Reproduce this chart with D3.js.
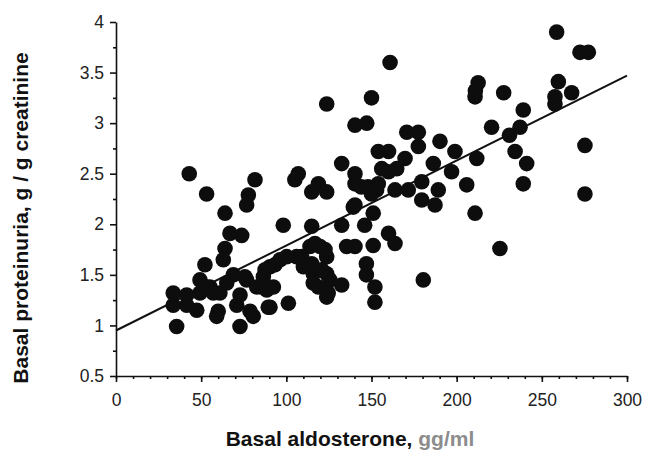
<!DOCTYPE html>
<html>
<head>
<meta charset="utf-8">
<script src="https://cdn.jsdelivr.net/npm/d3@7"></script>
<style>
  body { margin: 0; background: #fff; }
  svg { display: block; font-family: "Liberation Sans", Arial, sans-serif; }
</style>
</head>
<body>
<div id="chart"></div>
<script>
// values
const aldosterone = [
  35.6, 72.8, 33.6, 41.5, 49.3, 55.2, 33.6, 41.5, 47.4, 49.3, 52.2, 53.2, 57.1, 61, 65, 68.9, 75.7,
  60, 59.1, 70.9, 72.8, 76.7, 78.7, 80.6, 82.6, 88.5, 92.4, 86.5, 90.4, 96.3, 100.2, 106, 110,
  113.9, 119.8, 115.8, 115.8, 123.7, 123.7, 125.6, 123.7, 120.8, 118.8, 124.6, 109, 116.8, 122.7,
  114.9, 89.4, 85.5, 90.4, 101.2, 132.5, 98.2, 114.9, 132.5, 135.4, 140.3, 147, 147, 152, 152,
  139.3, 146, 151, 151, 64, 53.2, 43, 77.7, 76.7, 81.6, 66.9, 73.8, 64, 63, 105, 107, 118.8,
  114.9, 123.7, 132.5, 123.7, 150, 140.3, 147.2, 160.9, 140.3, 140.3, 144, 148, 150, 154, 153,
  140.3, 154, 160, 169.7, 156, 160, 164.8, 163.8, 171.6, 179.5, 189.2, 179.5, 187.3, 186.3, 197,
  205.9, 199, 190.2, 170.7, 177.5, 177.5, 160, 163.8, 180.4, 210.8, 225.4, 211.8, 210.8, 212.6,
  211, 220.5, 227.6, 231, 237.2, 239.1, 234.3, 241.1, 239.1, 258.7, 272.4, 277.3, 259.7, 257.7,
  257.7, 267.5, 275.3, 275.3, 93.3, 87.5
];
const proteinuria = [
  0.99, 0.99, 1.32, 1.30, 1.32, 1.38, 1.20, 1.20, 1.15, 1.45, 1.60, 1.38, 1.32, 1.32, 1.42, 1.50, 1.48,
  1.14, 1.09, 1.20, 1.30, 1.45, 1.14, 1.09, 1.38, 1.35, 1.38, 1.48, 1.58, 1.65, 1.68, 1.68, 1.58,
  1.78, 1.78, 1.51, 1.42, 1.68, 1.51, 1.45, 1.28, 1.55, 1.38, 1.32, 1.68, 1.81, 1.75,
  1.61, 1.18, 1.38, 1.18, 1.22, 1.40, 1.99, 1.98, 1.99, 1.78, 1.78, 1.61, 1.50, 1.38, 1.23,
  2.17, 1.99, 2.11, 1.79, 2.11, 2.30, 2.50, 2.29, 2.19, 2.44, 1.91, 1.89, 1.76, 1.65, 2.44, 2.50, 2.40,
  2.32, 2.32, 2.60, 3.19, 3.25, 2.98, 3.00, 3.60, 2.50, 2.40, 2.37, 2.37, 2.30, 2.40, 2.34,
  2.19, 2.72, 2.72, 2.65, 2.55, 2.52, 2.55, 2.34, 2.34, 2.42, 2.34, 2.24, 2.19, 2.60, 2.52,
  2.39, 2.72, 2.82, 2.91, 2.91, 2.77, 1.91, 1.81, 1.45, 2.11, 1.76, 2.65, 3.26, 3.40,
  3.32, 2.96, 3.30, 2.88, 2.96, 3.13, 2.72, 2.60, 2.40, 3.90, 3.70, 3.70, 3.41, 3.26,
  3.19, 3.30, 2.78, 2.30, 1.60, 1.55
];
const fitX = [0, 300];
const fitY = [0.95, 3.47];
const xTicks = [0, 50, 100, 150, 200, 250, 300];
const yTicks = [0.5, 1, 1.5, 2, 2.5, 3, 3.5, 4];

const width = 647, height = 460;
const margin = { left: 116, right: 20, top: 22, bottom: 84 };

const svg = d3.select("#chart").append("svg")
  .attr("width", width)
  .attr("height", height);

const x = d3.scaleLinear().domain([0, 300]).range([margin.left, width - margin.right]);
const y = d3.scaleLinear().domain([0.5, 4]).range([height - margin.bottom, margin.top]);

// minor ticks first, then major axis on top
svg.append("g")
  .attr("transform", `translate(0,${y(0.5)})`)
  .call(d3.axisBottom(x).ticks(30).tickSize(3).tickFormat(""))
  .call(g => g.select(".domain").remove());
svg.append("g")
  .attr("transform", `translate(${x(0)},0)`)
  .call(d3.axisLeft(y).tickValues(d3.range(0.75, 4, 0.5)).tickSize(3).tickFormat(""))
  .call(g => g.select(".domain").remove());

svg.append("g")
  .attr("transform", `translate(0,${y(0.5)})`)
  .call(d3.axisBottom(x).tickValues(xTicks).tickSize(6).tickSizeOuter(0).tickPadding(12));
svg.append("g")
  .attr("transform", `translate(${x(0)},0)`)
  .call(d3.axisLeft(y).tickValues(yTicks).tickSize(6).tickSizeOuter(0).tickPadding(6)
    .tickFormat(d => d3.format("")(d)));

svg.selectAll(".domain, .tick line").attr("stroke", "#111").attr("stroke-width", 1.6);
svg.selectAll(".tick text")
  .attr("fill", "#222")
  .style("font-size", "17.5px")
  .style("font-family", "'Liberation Sans', Arial, sans-serif");

// regression line
svg.append("line")
  .attr("x1", x(fitX[0])).attr("y1", y(fitY[0]))
  .attr("x2", x(fitX[1])).attr("y2", y(fitY[1]))
  .attr("stroke", "#111")
  .attr("stroke-width", 2);

svg.append("g").selectAll("circle")
  .data(aldosterone.map((a, i) => [a, proteinuria[i]]))
  .join("circle")
  .attr("cx", d => x(d[0]))
  .attr("cy", d => y(d[1]))
  .attr("r", 7.8)
  .attr("fill", "#0d0d0d");

// axis titles
const xTitle = svg.append("text")
  .attr("x", 350)
  .attr("y", 446)
  .attr("text-anchor", "middle")
  .style("font-size", "21px")
  .style("font-weight", "bold");
xTitle.append("tspan").attr("fill", "#111").text("Basal aldosterone, ");
xTitle.append("tspan").attr("fill", "#8c8c8c").text("gg/ml");

svg.append("text")
  .attr("transform", `translate(28,${(y(0.5) + 40) / 2 + 10}) rotate(-90)`)
  .attr("text-anchor", "middle")
  .attr("fill", "#111")
  .style("font-size", "21px")
  .style("font-weight", "bold")
  .text("Basal proteinuria, g / g creatinine");
</script>
</body>
</html>
